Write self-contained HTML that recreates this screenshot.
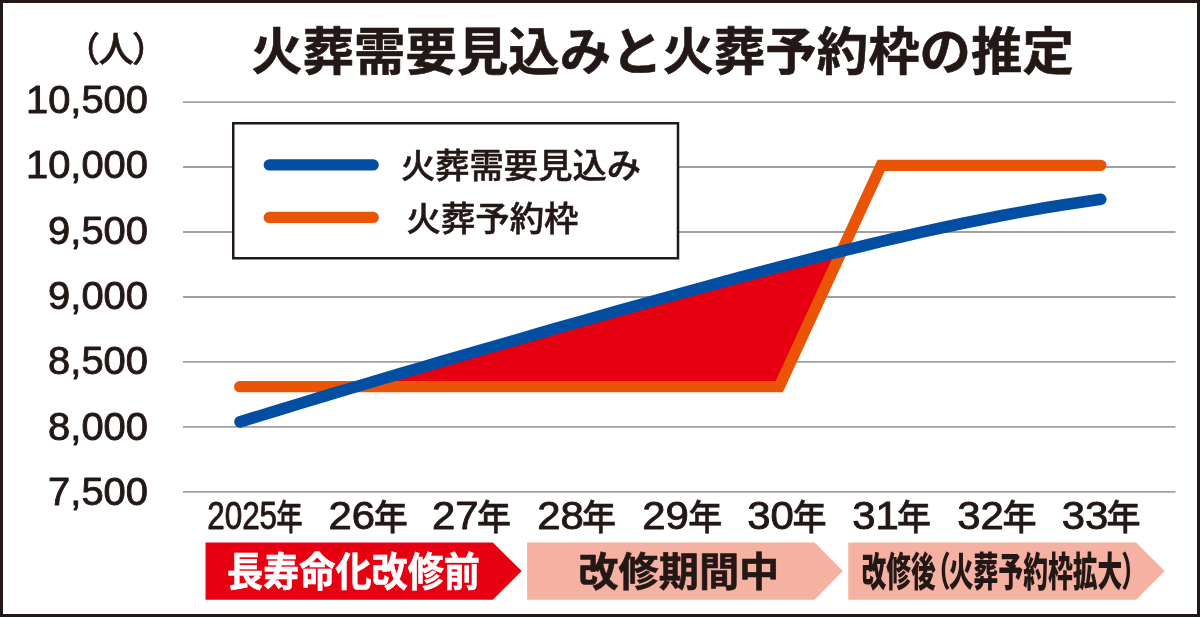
<!DOCTYPE html>
<html lang="ja">
<head>
<meta charset="utf-8">
<title>火葬需要見込みと火葬予約枠の推定</title>
<style>
html,body{margin:0;padding:0;background:#fff;}
body{width:1200px;height:617px;overflow:hidden;}
svg{display:block;}
text{font-family:"Liberation Sans","Noto Sans CJK JP",sans-serif;fill:#231815;}
.dg{font-size:38.4px;stroke:#231815;stroke-width:0.9px;stroke-linejoin:round;}
.nen{font-size:35.5px;font-weight:500;stroke:#231815;stroke-width:0.5px;stroke-linejoin:round;}
.jp{font-family:"Liberation Sans","Noto Sans CJK JP",sans-serif;}
</style>
</head>
<body>
<svg width="1200" height="617" viewBox="0 0 1200 617">
<rect x="0" y="0" width="1200" height="617" fill="#fff"/>
<g stroke="#a0a0a0" stroke-width="1.8" fill="none"><line x1="183" x2="1175.5" y1="102.1" y2="102.1"/><line x1="183" x2="1175.5" y1="167" y2="167"/><line x1="183" x2="1175.5" y1="232" y2="232"/><line x1="183" x2="1175.5" y1="297" y2="297"/><line x1="183" x2="1175.5" y1="361.9" y2="361.9"/><line x1="183" x2="1175.5" y1="426.9" y2="426.9"/><line x1="183" x2="1175.5" y1="491.8" y2="491.8"/></g>
<g font-size="38.2" stroke="#231815" stroke-width="0.9" stroke-linejoin="round"><text x="148" y="113.3" text-anchor="end" textLength="122.0" lengthAdjust="spacingAndGlyphs">10,500</text><text x="148" y="178.2" text-anchor="end" textLength="122.0" lengthAdjust="spacingAndGlyphs">10,000</text><text x="148" y="243.5" text-anchor="end" textLength="99.9" lengthAdjust="spacingAndGlyphs">9,500</text><text x="148" y="308.7" text-anchor="end" textLength="99.9" lengthAdjust="spacingAndGlyphs">9,000</text><text x="148" y="374.1" text-anchor="end" textLength="99.9" lengthAdjust="spacingAndGlyphs">8,500</text><text x="148" y="439.5" text-anchor="end" textLength="99.9" lengthAdjust="spacingAndGlyphs">8,000</text><text x="148" y="504.9" text-anchor="end" textLength="99.9" lengthAdjust="spacingAndGlyphs">7,500</text></g>
<text class="jp" font-weight="500" stroke="#231815" stroke-width="0.6" stroke-linejoin="round"><tspan x="65.4" y="61.9" font-size="34.5">（</tspan><tspan x="98.4" y="62.4" font-size="35.3">人</tspan><tspan x="132" y="61.9" font-size="34.5">）</tspan></text>
<text class="jp" x="251.3" y="70.3" font-size="51" font-weight="700" stroke="#231815" stroke-width="0.6" stroke-linejoin="round" textLength="822.5" lengthAdjust="spacingAndGlyphs">火葬需要見込みと火葬予約枠の推定</text>
<path d="M355.9,386.7 L372.7,381.7 L389.4,376.8 L406.2,371.8 L422.9,366.9 L439.7,362.0 L456.4,357.2 L473.2,352.3 L489.9,347.4 L506.7,342.6 L523.4,337.8 L540.2,333.0 L556.9,328.2 L573.7,323.4 L590.4,318.7 L607.2,313.9 L623.9,309.2 L640.7,304.5 L657.4,299.9 L674.2,295.2 L690.9,290.6 L707.7,286.1 L724.4,281.5 L741.2,277.0 L758.0,272.6 L774.7,268.1 L791.5,263.8 L808.2,259.5 L825.0,255.2 L841.7,251.1 L779.3,386.7Z" fill="#e60012"/>
<path d="M239.7,386.7 L779.3,386.7 L881.2,165.3 L1100.8,165.3" fill="none" stroke="#e95504" stroke-width="11.3" stroke-linecap="round" stroke-linejoin="miter"/>
<path d="M240.0,421.9 L260.0,415.7 L280.0,409.6 L300.1,403.5 L320.1,397.4 L340.1,391.4 L360.1,385.5 L380.1,379.5 L400.1,373.6 L420.2,367.7 L440.2,361.9 L460.2,356.0 L480.2,350.2 L500.2,344.5 L520.3,338.7 L540.3,332.9 L560.3,327.2 L580.3,321.5 L600.3,315.9 L620.4,310.2 L640.4,304.6 L660.4,299.0 L680.4,293.5 L700.4,288.0 L720.4,282.6 L740.5,277.2 L760.5,271.9 L780.5,266.6 L800.5,261.5 L820.5,256.4 L840.6,251.4 L860.6,246.5 L880.6,241.7 L900.6,237.0 L920.6,232.4 L940.7,228.0 L960.7,223.8 L980.7,219.7 L1000.7,215.8 L1020.7,212.1 L1040.7,208.5 L1060.8,205.2 L1080.8,202.2 L1100.8,199.3" fill="none" stroke="#024ea2" stroke-width="11.6" stroke-linecap="round" stroke-linejoin="round"/>
<rect x="233.25" y="123.25" width="444.75" height="135" fill="#fff" stroke="#231815" stroke-width="2.5"/>
<line x1="269.3" x2="373.2" y1="164.9" y2="164.9" stroke="#024ea2" stroke-width="11.3" stroke-linecap="round"/>
<line x1="269.3" x2="373.2" y1="217.4" y2="217.4" stroke="#e95504" stroke-width="11.3" stroke-linecap="round"/>
<g class="jp" font-size="34" font-weight="500" stroke="#231815" stroke-width="0.55" stroke-linejoin="round">
<text class="jp" x="401" y="178" textLength="240" lengthAdjust="spacingAndGlyphs">火葬需要見込み</text>
<text class="jp" x="406.5" y="230.5" textLength="172" lengthAdjust="spacingAndGlyphs">火葬予約枠</text>
</g>
<g><text class="dg" x="207.2" y="529.3" textLength="69.9" lengthAdjust="spacingAndGlyphs">2025</text><text class="nen" x="276.2" y="530.3" textLength="26.5" lengthAdjust="spacingAndGlyphs">年</text><text class="dg" x="328.5" y="529.3" textLength="46.6" lengthAdjust="spacingAndGlyphs">26</text><text class="nen" x="373.7" y="530.3" textLength="34.1" lengthAdjust="spacingAndGlyphs">年</text><text class="dg" x="432.0" y="529.3" textLength="46.6" lengthAdjust="spacingAndGlyphs">27</text><text class="nen" x="476.9" y="530.3" textLength="34.1" lengthAdjust="spacingAndGlyphs">年</text><text class="dg" x="537.2" y="529.3" textLength="46.6" lengthAdjust="spacingAndGlyphs">28</text><text class="nen" x="582.0" y="530.3" textLength="34.1" lengthAdjust="spacingAndGlyphs">年</text><text class="dg" x="642.2" y="529.3" textLength="46.6" lengthAdjust="spacingAndGlyphs">29</text><text class="nen" x="688.2" y="530.3" textLength="34.1" lengthAdjust="spacingAndGlyphs">年</text><text class="dg" x="747.2" y="529.3" textLength="46.6" lengthAdjust="spacingAndGlyphs">30</text><text class="nen" x="792.5" y="530.3" textLength="34.1" lengthAdjust="spacingAndGlyphs">年</text><text class="dg" x="852.2" y="529.3" textLength="46.6" lengthAdjust="spacingAndGlyphs">31</text><text class="nen" x="897.0" y="530.3" textLength="34.1" lengthAdjust="spacingAndGlyphs">年</text><text class="dg" x="957.2" y="529.3" textLength="46.6" lengthAdjust="spacingAndGlyphs">32</text><text class="nen" x="1002.6" y="530.3" textLength="34.1" lengthAdjust="spacingAndGlyphs">年</text><text class="dg" x="1061.7" y="529.3" textLength="46.6" lengthAdjust="spacingAndGlyphs">33</text><text class="nen" x="1106.6" y="530.3" textLength="34.1" lengthAdjust="spacingAndGlyphs">年</text></g>
<path d="M205.5,542.4 H492.8 L521.7,571.1 L492.8,599.8 H205.5Z" fill="#e60012"/>
<path d="M527.1,542.4 H814.7 L842.8,571.1 L814.7,599.8 H527.1Z" fill="#f5b1a1"/>
<path d="M848.3,542.4 H1136.1 L1164.7,571.1 L1136.1,599.8 H848.3Z" fill="#f5b1a1"/>
<g class="jp" font-weight="700" font-size="40" stroke-width="0.6" stroke-linejoin="round">
<text class="jp" x="227" y="586" style="fill:#fff;stroke:#fff" textLength="253" lengthAdjust="spacingAndGlyphs">長寿命化改修前</text>
<text class="jp" x="578.3" y="586" stroke="#231815" textLength="201" lengthAdjust="spacingAndGlyphs">改修期間中</text>
<text class="jp" font-weight="900" transform="translate(861.4,586) scale(0.62,1)">改修後<tspan dx="-16">（</tspan><tspan dx="-3">火葬予約枠拡大</tspan><tspan dx="-1.8">）</tspan></text>
</g>
<rect x="1.5" y="1.5" width="1197" height="614" fill="none" stroke="#231815" stroke-width="3"/>
</svg>
</body>
</html>
